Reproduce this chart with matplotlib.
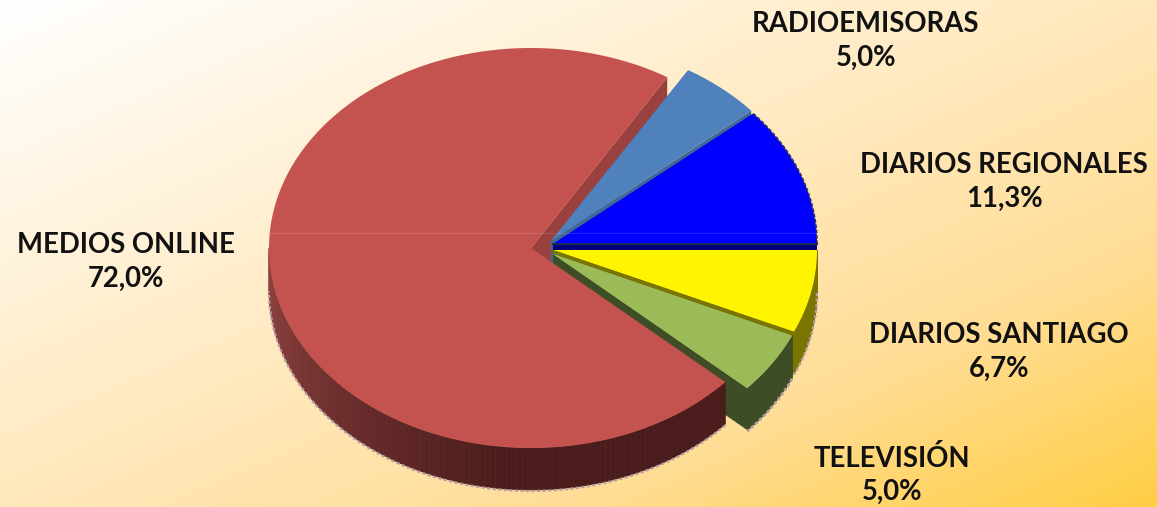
import numpy as np
import matplotlib
matplotlib.use('Agg')
import matplotlib.pyplot as plt
from matplotlib.collections import PolyCollection
from matplotlib.colors import LinearSegmentedColormap, to_rgb

# going clockwise from 3 o'clock
categories = ['DIARIOS SANTIAGO', 'TELEVISIÓN', 'MEDIOS ONLINE', 'RADIOEMISORAS', 'DIARIOS REGIONALES']
values = [6.7, 5.0, 72.0, 5.0, 11.3]
value_labels = ['6,7%', '5,0%', '72,0%', '5,0%', '11,3%']

face_colors = ['#FFF500', '#9BBB59', '#C4524F', '#4F81BD', '#0000FF']
wall_colors = ['#7A7400', '#3F4D26', '#9A403E', '#3F6797', '#00007A']
centers = [(553, 250), (553, 254), (531, 248), (551, 241), (553, 244)]
radii = [264, 262, 262, 264, 264]
label_pos = [(999, 352), (892, 475), (126, 262), (866, 41), (1004, 182)]

RY = 200
DEPTH = 42


def ell(c, a, rx):
    a = np.radians(a)
    return c[0] + rx * np.cos(a), c[1] - RY * np.sin(a)


def red_shade(a):
    # wall gets darker going round from the left side to the bottom
    t = np.interp(a, [-180, -95], [0, 1])
    c0, c1 = np.array(to_rgb('#8F423F')), np.array(to_rgb('#4A1C1C'))
    return c0 + (c1 - c0) * t


def draw_cut(ax, c, a, color, rx):
    x, y = ell(c, a, rx)
    ax.fill([c[0], x, x, c[0]], [c[1], y, y + DEPTH, c[1] + DEPTH], color=color, lw=0)


def draw_wall(ax, c, a1, a2, color, rx, shade=False):
    # outer wall, only the part facing us
    lo, hi = max(a2, -180), min(a1, 0)
    if lo >= hi:
        return
    aa = np.linspace(hi, lo, 120)
    xs, ys = ell(c, aa, rx)
    # jagged grey fringe under the wall
    ax.plot(xs, ys + DEPTH + 1, color='#B49CA2', lw=1.6, ls=(0, (1.5, 1.0)))
    polys, cols = [], []
    for i in range(len(aa) - 1):
        polys.append([(xs[i], ys[i]), (xs[i + 1], ys[i + 1]),
                      (xs[i + 1], ys[i + 1] + DEPTH), (xs[i], ys[i] + DEPTH)])
        cols.append(red_shade((aa[i] + aa[i + 1]) / 2) if shade else color)
    ax.add_collection(PolyCollection(polys, facecolors=cols, edgecolors=cols, linewidths=0.5))


def draw_face(ax, c, a1, a2, color, rx):
    aa = np.linspace(a1, a2, 240)
    xs, ys = ell(c, aa, rx)
    ax.fill(np.r_[c[0], xs], np.r_[c[1], ys], color=color, lw=0)


fig = plt.figure(figsize=(11.57, 5.07), dpi=100)
ax = fig.add_axes([0, 0, 1, 1])
ax.set_xlim(0, 1157)
ax.set_ylim(507, 0)
ax.axis('off')

# background gradient
gx, gy = np.meshgrid(np.linspace(0, 1, 300), np.linspace(0, 1, 200))
cmap = LinearSegmentedColormap.from_list('bg', [(0, '#FFFFFF'), (0.5, '#FFE8BC'), (0.75, '#FFDD95'), (1, '#FFCE45')])
ax.imshow((gx + gy) / 2, cmap=cmap, vmin=0, vmax=1, extent=(0, 1157, 507, 0), aspect='auto', zorder=0)

# angles from the values
edges = -np.cumsum([0] + values) * 3.6
red = 2

# red cut wall goes behind the other slices
draw_cut(ax, centers[red], edges[red + 1], wall_colors[red], radii[red])

for i in [3, 4, 0, 1]:
    a1, a2 = edges[i], edges[i + 1]
    c = centers[i]
    draw_cut(ax, c, a1, wall_colors[i], radii[i])
    draw_cut(ax, c, a2, wall_colors[i], radii[i])
    draw_wall(ax, c, a1, a2, wall_colors[i], radii[i])

for i in [3, 4, 0, 1]:
    draw_face(ax, centers[i], edges[i], edges[i + 1], face_colors[i], radii[i])
    if i == 0:
        x, y = ell(centers[i], edges[i + 1], radii[i])
        ax.plot([centers[i][0], x], [centers[i][1] + 1, y + 1], color=wall_colors[i], lw=1.4)
    if i == 1:
        # green wall again, it sits on top of yellow wall
        a2 = edges[i + 1]
        draw_wall(ax, centers[i], edges[i], a2, wall_colors[i], radii[i])
        draw_face(ax, centers[i], edges[i], a2, face_colors[i], radii[i])

# dark rim on the blue slice
aa = np.linspace(edges[4], edges[5], 80)
xs, ys = ell(centers[4], aa, radii[4])
ax.plot(xs, ys, color='#30305A', lw=1.3, ls=(0, (2, 1)))
x0, y0 = ell(centers[4], edges[5], radii[4])
ax.plot([centers[4][0], x0], [centers[4][1], y0], color='#1C2E55', lw=1.4)

# red slice comes last, in front
draw_wall(ax, centers[red], edges[red], edges[red + 1], wall_colors[red], radii[red], shade=True)
draw_face(ax, centers[red], edges[red], edges[red + 1], face_colors[red], radii[red])

# faint line across the pie
ax.plot([269, 817], [233, 233], color='#FFFFFF', alpha=0.12, lw=0.8)

for name, val, (x, y) in zip(categories, value_labels, label_pos):
    ax.text(x, y, name + '\n' + val, ha='center', va='center', fontsize=19.8, fontweight='bold',
            family='Lato', color='#111111', linespacing=1.34)

fig.savefig('out.png', dpi=100)
